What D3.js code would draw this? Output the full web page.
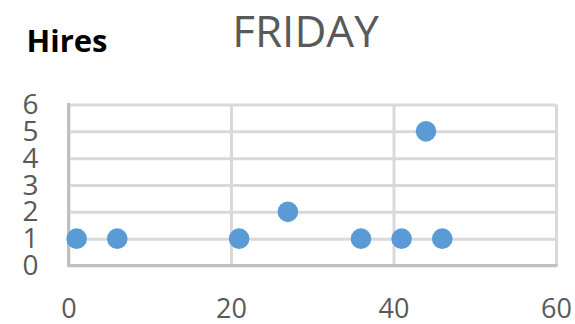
<!DOCTYPE html>
<html>
<head>
<meta charset="utf-8">
<script src="https://cdn.jsdelivr.net/npm/d3@7/dist/d3.min.js"></script>
<style>
  html, body { margin: 0; padding: 0; background: #ffffff; }
  svg { display: block; }
</style>
</head>
<body>
<svg id="chart" width="575" height="324"></svg>
<script>
// Friday hires by elapsed time
const xValues = [1, 6, 21, 27, 36, 41, 44, 46];
const hires   = [1, 1, 1, 2, 1, 1, 5, 1];
const xTicks  = [0, 20, 40, 60];
const yTicks  = [0, 1, 2, 3, 4, 5, 6];
const chartTitle = "FRIDAY";
const yTitle = "Hires";

const svg = d3.select("#chart");
const plotLeft = 68.5, plotRight = 556, plotTop = 104.5, plotBottom = 265.5;

const x = d3.scaleLinear().domain([0, 60]).range([plotLeft, plotRight]);
const y = d3.scaleLinear().domain([0, 6]).range([plotBottom, plotTop]);

const font = "'Open Sans', 'Liberation Sans', sans-serif";

// horizontal gridlines + y labels
const yAxis = svg.append("g")
  .attr("transform", `translate(${plotLeft},0)`)
  .call(d3.axisLeft(y).tickValues(yTicks).tickSize(-(plotRight - plotLeft)).tickPadding(30).tickFormat(d3.format("d")));
yAxis.select(".domain").remove();
yAxis.selectAll(".tick line")
  .attr("stroke", "#d9d9d9").attr("stroke-width", 3);
yAxis.selectAll(".tick text")
  .attr("fill", "#595959").attr("font-family", font).attr("font-size", 28)
  .attr("dy", null).attr("y", 9);

// vertical gridlines + x labels
const xAxis = svg.append("g")
  .attr("transform", `translate(0,${plotBottom})`)
  .call(d3.axisBottom(x).tickValues(xTicks).tickSize(-(plotBottom - plotTop)).tickFormat(d3.format("d")));
xAxis.select(".domain").remove();
xAxis.selectAll(".tick line")
  .attr("stroke", "#d9d9d9").attr("stroke-width", 3);
xAxis.selectAll(".tick text")
  .attr("fill", "#595959").attr("font-family", font).attr("font-size", 27)
  .attr("dy", null).attr("y", 52);

// axis lines
svg.append("line")
  .attr("x1", plotLeft).attr("x2", plotLeft).attr("y1", plotTop - 1.5).attr("y2", plotBottom + 1.5)
  .attr("stroke", "#bfbfbf").attr("stroke-width", 3);
svg.append("line")
  .attr("x1", plotLeft - 1.5).attr("x2", plotRight + 1.5).attr("y1", plotBottom).attr("y2", plotBottom)
  .attr("stroke", "#bfbfbf").attr("stroke-width", 3);

// points
svg.append("g").selectAll("circle")
  .data(xValues.map((v, i) => ({ x: v, y: hires[i] })))
  .join("circle")
  .attr("cx", d => x(d.x))
  .attr("cy", d => y(d.y))
  .attr("r", 10.3)
  .attr("fill", "#5b9bd5");

// titles
svg.append("text")
  .attr("x", 305.5).attr("y", 46.5)
  .attr("text-anchor", "middle")
  .attr("font-family", font).attr("font-size", 44)
  .attr("fill", "#595959")
  .text(chartTitle);

svg.append("text")
  .attr("x", 26.5).attr("y", 52)
  .attr("font-family", font).attr("font-size", 31).attr("font-weight", "bold")
  .attr("fill", "#000000")
  .text(yTitle);
</script>
</body>
</html>
